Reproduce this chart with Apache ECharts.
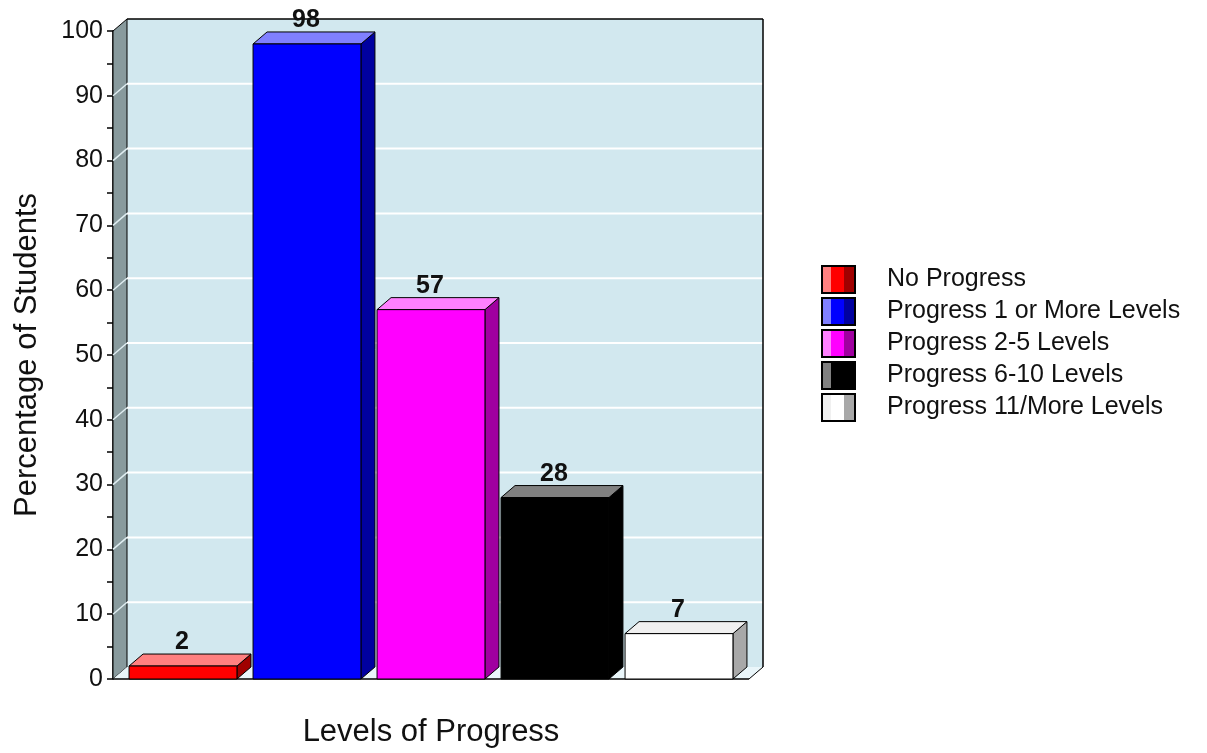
<!DOCTYPE html>
<html>
<head>
<meta charset="utf-8">
<title>Levels of Progress</title>
<script src="https://cdn.jsdelivr.net/npm/echarts@6/dist/echarts.min.js"></script>
<style>
  html, body { margin: 0; padding: 0; background: #fff; }
  #main { width: 1207px; height: 753px; }
</style>
</head>
<body>
<div id="main"></div>
<script>
// data
var categories = ['No Progress', 'Progress 1 or More Levels', 'Progress 2-5 Levels', 'Progress 6-10 Levels', 'Progress 11/More Levels'];
var values = [2, 98, 57, 28, 7];
// front / top / side colours of each bar
var frontColors = ['#ff0000', '#0000ff', '#ff00ff', '#000000', '#ffffff'];
var topColors = ['#ff8080', '#8080ff', '#ff80ff', '#808080', '#f0f0f0'];
var sideColors = ['#a00000', '#0000a0', '#a000a0', '#000000', '#a8a8a8'];
var yMin = 0, yMax = 100, yStep = 10;

var DX = 14, DY = 12; // depth of the 3d look
var myChart = echarts.init(document.getElementById('main'));

// back wall, left wall, floor and gridlines
function renderFrame(params, api) {
  var cs = params.coordSys;
  var x0 = cs.x - 8, x1 = cs.x + cs.width + 8;
  var yb = api.coord([0, yMin])[1];
  var yt = api.coord([0, yMax])[1];
  var kids = [];
  kids.push({ type: 'polygon', shape: { points: [[x0 + DX, yt - DY], [x1 + DX, yt - DY], [x1 + DX, yb - DY], [x0 + DX, yb - DY]] },
    style: { fill: '#d2e8ef', stroke: null } });
  kids.push({ type: 'polygon', shape: { points: [[x0, yt], [x0 + DX, yt - DY], [x0 + DX, yb - DY], [x0, yb]] },
    style: { fill: '#889a9d', stroke: '#000', lineWidth: 1 } });
  kids.push({ type: 'polygon', shape: { points: [[x0, yb], [x0 + DX, yb - DY], [x1 + DX, yb - DY], [x1, yb]] },
    style: { fill: '#eaf6fa', stroke: null } });
  for (var v = yMin + yStep; v < yMax; v += yStep) {
    var y = api.coord([0, v])[1];
    kids.push({ type: 'line', shape: { x1: x0 + DX, y1: y - DY, x2: x1 + DX, y2: y - DY }, style: { stroke: '#ffffff', lineWidth: 2 } });
    kids.push({ type: 'line', shape: { x1: x0, y1: y, x2: x0 + DX, y2: y - DY }, style: { stroke: '#e0eef2', lineWidth: 1.5 } });
  }
  kids.push({ type: 'line', shape: { x1: x0 + DX, y1: yt - DY, x2: x1 + DX, y2: yt - DY }, style: { stroke: '#000', lineWidth: 1.5 } });
  kids.push({ type: 'line', shape: { x1: x1 + DX, y1: yt - DY, x2: x1 + DX, y2: yb - DY }, style: { stroke: '#000', lineWidth: 1.5 } });
  kids.push({ type: 'line', shape: { x1: x1, y1: yb, x2: x1 + DX, y2: yb - DY }, style: { stroke: '#000', lineWidth: 1 } });
  kids.push({ type: 'line', shape: { x1: x0, y1: yb, x2: x1, y2: yb }, style: { stroke: '#000', lineWidth: 1.5 } });
  return { type: 'group', children: kids };
}

function renderBar(params, api) {
  var i = api.value(0);
  var base = api.coord([i, yMin]);
  var top = api.coord([i, api.value(1)]);
  var w = api.size([1, 0])[0] * 0.87;
  var L = base[0] - w / 2, R = base[0] + w / 2;
  var yT = top[1], y0 = base[1];
  var line = { stroke: '#000', lineWidth: 1 };
  return {
    type: 'group',
    children: [
      { type: 'polygon', shape: { points: [[R, yT], [R + DX, yT - DY], [R + DX, y0 - DY], [R, y0]] },
        style: Object.assign({ fill: sideColors[i] }, line) },
      { type: 'polygon', shape: { points: [[L, yT], [L + DX, yT - DY], [R + DX, yT - DY], [R, yT]] },
        style: Object.assign({ fill: topColors[i] }, line) },
      { type: 'rect', shape: { x: L, y: yT, width: w, height: y0 - yT },
        style: Object.assign({ fill: frontColors[i] }, line) },
      { type: 'text', style: { text: String(api.value(1)), x: base[0] - 1, y: yT - DY + 1,
          align: 'center', verticalAlign: 'bottom', fill: '#111',
          fontFamily: '"Liberation Sans Narrow", "Arial Narrow", "Liberation Sans", sans-serif',
          fontWeight: 'bold', fontSize: 25 } }
    ]
  };
}

function stripes(i) {
  return new echarts.graphic.LinearGradient(0, 0, 1, 0, [
    { offset: 0, color: topColors[i] }, { offset: 0.3, color: topColors[i] },
    { offset: 0.3, color: frontColors[i] }, { offset: 0.66, color: frontColors[i] },
    { offset: 0.66, color: sideColors[i] }, { offset: 1, color: sideColors[i] }
  ]);
}

var series = [{
  type: 'custom', name: 'frame', silent: true, z: 1,
  renderItem: renderFrame, data: [[0, 0]]
}];
categories.forEach(function (name, i) {
  series.push({
    type: 'custom', name: name, z: 3,
    itemStyle: { color: frontColors[i] },
    renderItem: renderBar,
    data: [[i, values[i]]]
  });
});

var option = {
  animation: false,
  grid: { left: 121, right: 466, top: 31, bottom: 72 },
  legend: {
    orient: 'vertical', left: 821, top: 265, padding: 0,
    itemWidth: 33, itemHeight: 27, itemGap: 3,
    textStyle: { fontFamily: '"Liberation Sans", Arial, sans-serif', fontSize: 25, color: '#111', padding: [0, 0, 0, 27] },
    data: categories.map(function (name, i) {
      return { name: name, icon: 'rect', itemStyle: { color: stripes(i), borderColor: '#000', borderWidth: 2 } };
    })
  },
  xAxis: {
    type: 'category', data: categories,
    name: 'Levels of Progress', nameLocation: 'middle', nameGap: 38,
    nameTextStyle: { fontFamily: '"Liberation Sans", Arial, sans-serif', fontSize: 31, color: '#111' },
    axisLine: { show: false }, axisTick: { show: false }, axisLabel: { show: false }
  },
  yAxis: {
    type: 'value', min: yMin, max: yMax, interval: yStep, offset: 8,
    name: 'Percentage of Students', nameLocation: 'middle', nameGap: 70,
    nameTextStyle: { fontFamily: '"Liberation Sans", Arial, sans-serif', fontSize: 31, color: '#111' },
    axisLine: { show: true, lineStyle: { color: '#000', width: 1.5 } },
    axisTick: { show: true, length: 6, lineStyle: { color: '#000', width: 1.5 } },
    minorTick: { show: true, splitNumber: 2, length: 6, lineStyle: { color: '#000', width: 1.5 } },
    axisLabel: { margin: 10, color: '#111', fontSize: 25,
      fontFamily: '"Liberation Sans Narrow", "Arial Narrow", "Liberation Sans", sans-serif' },
    splitLine: { show: false }
  },
  series: series
};
myChart.setOption(option);
</script>
</body>
</html>
